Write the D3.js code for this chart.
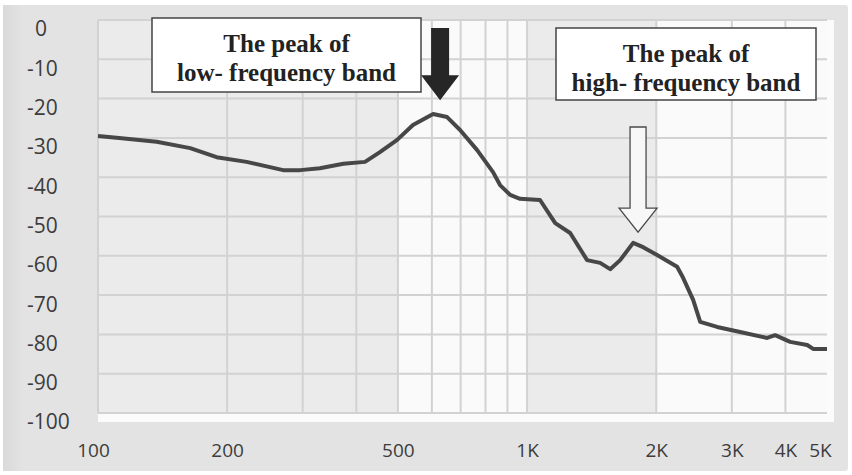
<!DOCTYPE html>
<html><head><meta charset="utf-8">
<script src="https://cdn.jsdelivr.net/npm/d3@7"></script>
<style>
html,body{margin:0;padding:0;background:#fff;}
svg{display:block;}
</style></head>
<body>
<svg id="chart" width="852" height="475"></svg>
<script>
// ---- data ----
const freqs  = [100, 112, 137, 164, 189, 222, 270, 296, 329, 373, 419, 454, 498, 542, 604, 651, 698, 765, 833, 865, 913, 963, 1072, 1163, 1260, 1380, 1480, 1562, 1648, 1767, 1864, 2009, 2237, 2310, 2438, 2532, 2773, 3136, 3627, 3785, 4103, 4496, 4642, 5000];
const levels = [-29.5, -30.0, -31.0, -32.6, -34.9, -36.1, -38.2, -38.2, -37.7, -36.6, -36.1, -33.6, -30.5, -26.7, -23.9, -24.7, -28.0, -33.1, -38.7, -42.0, -44.5, -45.5, -45.8, -51.7, -54.2, -61.1, -61.8, -63.4, -61.1, -56.7, -57.8, -59.8, -62.8, -65.6, -71.2, -76.8, -78.1, -79.4, -80.9, -80.2, -81.9, -82.7, -83.7, -83.7];
const gridFreqs = [200, 300, 400, 500, 600, 700, 800, 900, 1000, 2000, 3000, 4000];
const xTickValues = [100, 200, 500, 1000, 2000, 3000, 4000, 5000];
const xTickLabels = ["100", "200", "500", "1K", "2K", "3K", "4K", "5K"];
const yTickValues = [0, -10, -20, -30, -40, -50, -60, -70, -80, -90, -100];
const whiteBands = [[500, 1000], [2000, 5000]];
const annoLines = [["The peak of", "low- frequency band"], ["The peak of", "high- frequency band"]];
const arrowFreqs = [627, 1814];
const arrowTipDb = [-20.4, -54.0];

// ---- layout ----
const svg = d3.select("#chart");
const L = 98, R = 827, T = 20, B = 413;
const x = d3.scaleLog().domain([100, 5000]).range([L, R]);
const y = d3.scaleLinear().domain([-100, 0]).range([B, T]);

// outer panel
svg.append("rect").attr("x", 3).attr("y", 5).attr("width", 845).attr("height", 466)
  .attr("rx", 3).attr("fill", "#e3e3e3");
const grad = svg.append("defs").append("linearGradient").attr("id", "lg");
grad.append("stop").attr("offset", "0").attr("stop-color", "#d9d9d9");
grad.append("stop").attr("offset", "1").attr("stop-color", "#e3e3e3");
svg.append("rect").attr("x", 3).attr("y", 5).attr("width", 20).attr("height", 466).attr("fill", "url(#lg)");

// plot frame (white border)
svg.append("rect").attr("x", L).attr("y", T).attr("width", R - L + 7).attr("height", B - T + 9).attr("fill", "#fbfbfb");
// plot background
svg.append("rect").attr("x", L).attr("y", T).attr("width", R - L).attr("height", B - T).attr("fill", "#ebebeb");
svg.selectAll("rect.band").data(whiteBands).enter().append("rect").attr("class", "band")
  .attr("x", d => x(d[0])).attr("y", T).attr("width", d => x(d[1]) - x(d[0])).attr("height", B - T)
  .attr("fill", "#fafafa");

// gridlines
const grid = svg.append("g").attr("stroke", "#d2d2d2").attr("stroke-width", 2);
grid.selectAll("line.h").data(yTickValues).enter().append("line")
  .attr("x1", L).attr("x2", R).attr("y1", d => y(d)).attr("y2", d => y(d));
grid.selectAll("line.v").data(gridFreqs.concat([100])).enter().append("line")
  .attr("x1", d => x(d)).attr("x2", d => x(d)).attr("y1", T).attr("y2", B);

// y axis
const yAxis = d3.axisLeft(y).tickValues(yTickValues).tickSize(0).tickFormat(d => String(d));
const gy = svg.append("g").attr("transform", `translate(${L},0)`).call(yAxis);
gy.select(".domain").remove();
gy.selectAll("text").attr("font-family", "'Open Sans', sans-serif").attr("font-size", 21)
  .attr("fill", "#3c3c3c").attr("text-anchor", "start")
  .attr("x", d => d === 0 ? 35 - L : 27 - L).attr("dy", "0.95em").attr("y", -4);

// x axis
const xAxis = d3.axisBottom(x).tickValues(xTickValues).tickSize(0)
  .tickFormat((d, i) => xTickLabels[i]);
const gx = svg.append("g").attr("transform", `translate(0,${B})`).call(xAxis);
gx.select(".domain").remove();
gx.selectAll("text").attr("font-family", "'Open Sans', sans-serif").attr("font-size", 19)
  .attr("fill", "#3c3c3c").attr("y", 31)
  .attr("dx", (d, i) => i === 0 ? -5 : (i === xTickValues.length - 1 ? -7 : 0));

// curve
const pts = freqs.map((f, i) => [f, levels[i]]);
svg.append("path").datum(pts)
  .attr("d", d3.line().x(d => x(d[0])).y(d => y(d[1])))
  .attr("fill", "none").attr("stroke", "#474747").attr("stroke-width", 4)
  .attr("stroke-linejoin", "round");

// annotation boxes
const boxes = [{x: 152, y: 18, w: 269, h: 74}, {x: 556, y: 28, w: 260, h: 72}];
boxes.forEach((b, i) => {
  svg.append("rect").attr("x", b.x).attr("y", b.y).attr("width", b.w).attr("height", b.h)
    .attr("fill", "#ffffff").attr("stroke", "#444").attr("stroke-width", 1.5);
  annoLines[i].forEach((t, j) => {
    svg.append("text").attr("x", b.x + b.w / 2).attr("y", b.y + 34 + j * 29)
      .attr("text-anchor", "middle").attr("font-family", "'Liberation Serif', 'Times New Roman', serif")
      .attr("font-weight", "bold").attr("font-size", 25).attr("fill", "#222").text(t);
  });
});

// black arrow
(function () {
  const cx = x(arrowFreqs[0]), tip = y(arrowTipDb[0]);
  const p = [[cx - 9, 28], [cx + 9, 28], [cx + 9, tip - 25], [cx + 19, tip - 25], [cx, tip],
             [cx - 19, tip - 25], [cx - 9, tip - 25]];
  svg.append("path").attr("d", d3.line()(p) + "Z").attr("fill", "#262626");
})();
// white arrow
(function () {
  const cx = x(arrowFreqs[1]), tip = y(arrowTipDb[1]);
  const p = [[cx - 8, 127], [cx + 8, 127], [cx + 8, tip - 24], [cx + 19, tip - 24], [cx, tip],
             [cx - 19, tip - 24], [cx - 8, tip - 24]];
  svg.append("path").attr("d", d3.line()(p) + "Z").attr("fill", "#f7f7f7")
    .attr("stroke", "#4a4a4a").attr("stroke-width", 1.3);
})();
</script>
</body></html>
